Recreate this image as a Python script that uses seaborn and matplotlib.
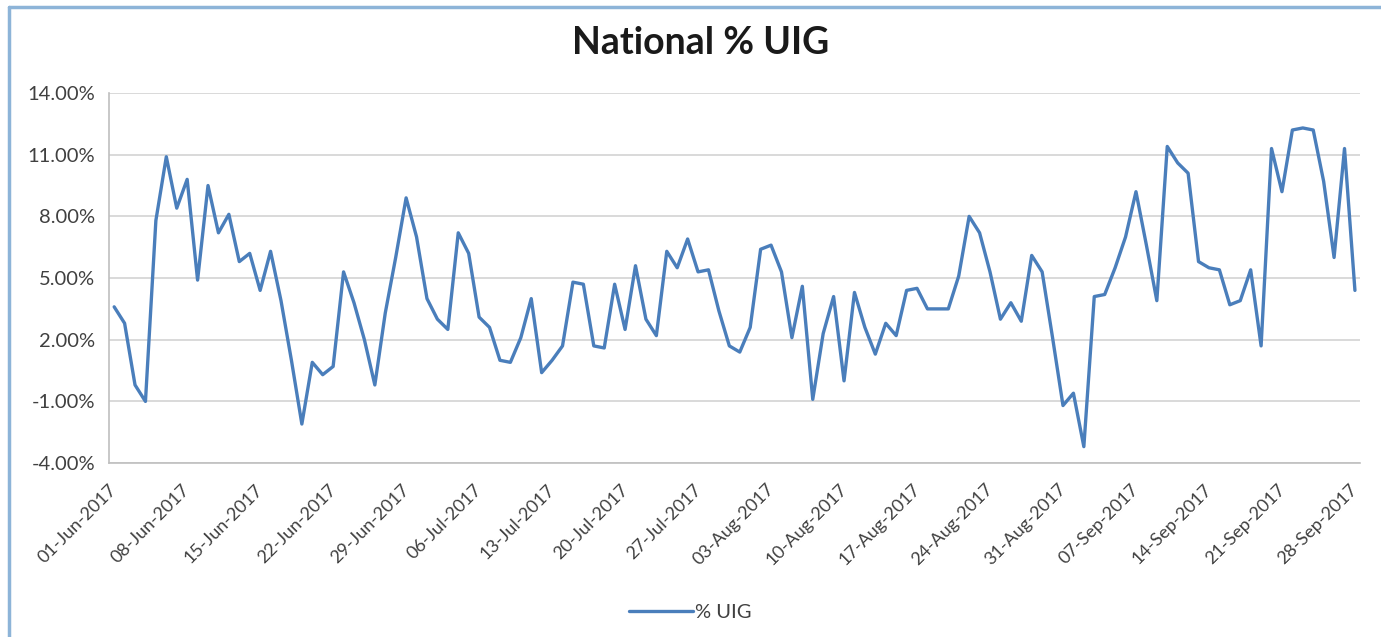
import numpy as np
import pandas as pd
import matplotlib
matplotlib.use("Agg")
import matplotlib.pyplot as plt
import matplotlib.dates as mdates
from matplotlib.lines import Line2D
import seaborn as sns

# daily national % UIG, 01-Jun-2017 .. 28-Sep-2017
start_date = "2017-06-01"
uig_pct = [
    3.6, 2.8, -0.2, -1.0, 7.8, 10.9, 8.4, 9.8, 4.9, 9.5,
    7.2, 8.1, 5.8, 6.2, 4.4, 6.3, 3.9, 1.0, -2.1, 0.9,
    0.3, 0.7, 5.3, 3.8, 2.0, -0.2, 3.3, 6.0, 8.9, 7.0,
    4.0, 3.0, 2.5, 7.2, 6.2, 3.1, 2.6, 1.0, 0.9, 2.1,
    4.0, 0.4, 1.0, 1.7, 4.8, 4.7, 1.7, 1.6, 4.7, 2.5,
    5.6, 3.0, 2.2, 6.3, 5.5, 6.9, 5.3, 5.4, 3.4, 1.7,
    1.4, 2.6, 6.4, 6.6, 5.3, 2.1, 4.6, -0.9, 2.3, 4.1,
    0.0, 4.3, 2.6, 1.3, 2.8, 2.2, 4.4, 4.5, 3.5, 3.5,
    3.5, 5.1, 8.0, 7.2, 5.3, 3.0, 3.8, 2.9, 6.1, 5.3,
    2.1, -1.2, -0.6, -3.2, 4.1, 4.2, 5.5, 7.0, 9.2, 6.6,
    3.9, 11.4, 10.6, 10.1, 5.8, 5.5, 5.4, 3.7, 3.9, 5.4,
    1.7, 11.3, 9.2, 12.2, 12.3, 12.2, 9.7, 6.0, 11.3, 4.4,
]
y_ticks = [-4, -1, 2, 5, 8, 11, 14]
series_name = "% UIG"
title = "National % UIG"

LINE_BLUE = "#4A7EBB"
GRID = "#D9D9D9"
TEXT = "#404040"

dates = pd.date_range(start_date, periods=len(uig_pct), freq="D")
df = pd.DataFrame({"date": dates, series_name: uig_pct})

sns.set_theme(style="white")
plt.rcParams["font.family"] = ["Lato", "DejaVu Sans"]

fig = plt.figure(figsize=(13.81, 6.37), dpi=100)
ax = fig.add_axes([0.0789, 0.273, 0.906, 0.581])

sns.lineplot(data=df, x="date", y=series_name, color=LINE_BLUE, linewidth=2.4,
             label=series_name, ax=ax)

# y axis
ax.set_ylim(min(y_ticks), max(y_ticks))
ax.set_yticks(y_ticks)
ax.set_yticklabels([f"{v:.2f}%" for v in y_ticks], fontsize=14.5, color=TEXT)
ax.yaxis.grid(True, color=GRID, linewidth=1.4)
ax.set_axisbelow(True)

# x axis: weekly ticks sit on the day boundaries
half = 0.5
xnum = mdates.date2num(dates)
ax.set_xlim(xnum[0] - half, xnum[-1] + half)
tick_dates = dates[::7]
ax.set_xticks(mdates.date2num(tick_dates) - half)
ax.set_xticklabels([d.strftime("%d-%b-%Y") for d in tick_dates], rotation=45,
                   ha="right", rotation_mode="anchor", fontsize=13, color=TEXT)
ax.set_xlabel("")
ax.set_ylabel("")

for side in ["top", "right"]:
    ax.spines[side].set_visible(False)
for side in ["left", "bottom"]:
    ax.spines[side].set_color("#BFBFBF")
    ax.spines[side].set_linewidth(1.2)
ax.tick_params(axis="both", which="major", length=7, width=1.2, color="#BFBFBF",
               direction="out", pad=3)
ax.tick_params(axis="x", pad=6)

fig.text(0.507, 0.932, title, ha="center", va="center", fontsize=27,
         fontweight="bold", color="#1a1a1a")

ax.legend(loc="center", bbox_to_anchor=(0.5, 0.039), bbox_transform=fig.transFigure,
          frameon=False, fontsize=14.5, handlelength=3.2, handletextpad=0.1,
          labelcolor=TEXT)

# chart-area frame (light blue, left and top)
border = "#8DB4D8"
fig.add_artist(Line2D([9 / 1381, 9 / 1381], [0, 1 - 7 / 637], transform=fig.transFigure,
                      color=border, linewidth=2.5))
fig.add_artist(Line2D([9 / 1381, 1], [1 - 7 / 637, 1 - 7 / 637], transform=fig.transFigure,
                      color=border, linewidth=2.5))

fig.savefig("out.png", dpi=100, facecolor="white")
